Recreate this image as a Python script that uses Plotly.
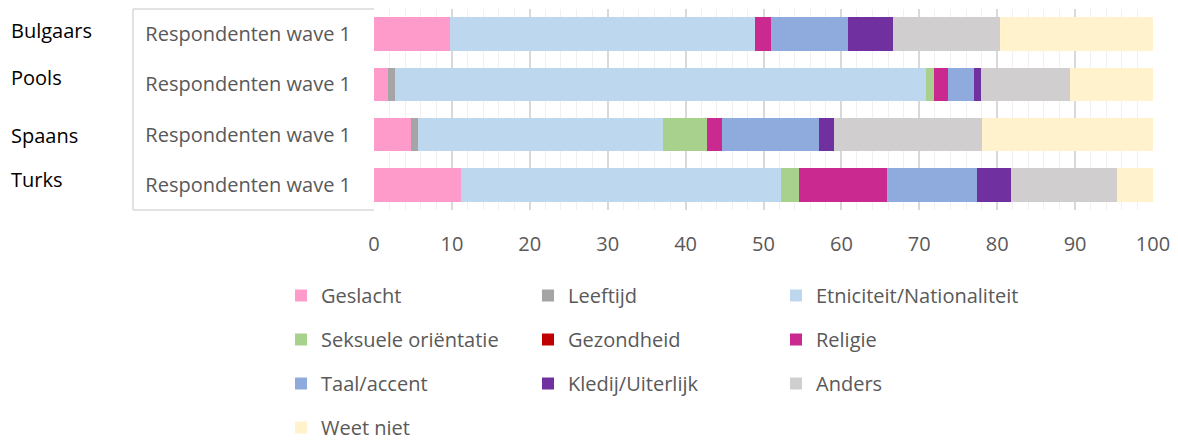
import plotly.graph_objects as go

groups = ["Bulgaars", "Pools", "Spaans", "Turks"]
wave_label = "Respondenten wave 1"

series_names = ["Geslacht", "Leeftijd", "Etniciteit/Nationaliteit", "Seksuele oriëntatie",
                "Gezondheid", "Religie", "Taal/accent", "Kledij/Uiterlijk", "Anders", "Weet niet"]

geslacht = [9.7, 1.8, 4.7, 11.2]
leeftijd = [0.0, 0.9, 1.0, 0.0]
etniciteit = [39.2, 68.2, 31.4, 41.0]
seksuele = [0.0, 1.0, 5.7, 2.3]
gezondheid = [0.0, 0.0, 0.0, 0.0]
religie = [2.0, 1.8, 1.9, 11.4]
taal = [9.9, 3.3, 12.4, 11.5]
kledij = [5.8, 0.9, 1.9, 4.4]
anders = [13.7, 11.4, 19.0, 13.6]
weet_niet = [19.7, 10.7, 22.0, 4.6]

values = [geslacht, leeftijd, etniciteit, seksuele, gezondheid, religie, taal, kledij, anders, weet_niet]
colors = ["#FF9BCB", "#A5A5A5", "#BDD7EE", "#A9D18E", "#C00000",
          "#CA2A8F", "#8FAADC", "#7030A0", "#D0CECE", "#FFF2CC"]
legend_ids = ["legend", "legend2", "legend3", "legend", "legend2",
              "legend3", "legend", "legend2", "legend3", "legend"]

x_ticks = list(range(0, 101, 10))

FONT = "Open Sans"
GRAY = "#595959"
FS = 20

fig = go.Figure()
for name, vals, col, lg in zip(series_names, values, colors, legend_ids):
    fig.add_trace(go.Bar(
        y=groups, x=vals, name=name, orientation="h",
        marker=dict(color=col, line=dict(width=0)),
        legend=lg, legendgroup=name, hoverinfo="skip",
    ))

W, H = 1178, 441
ml, mr, mt, mb = 374, 25, 9, 231
pw = W - ml - mr
ph = H - mt - mb

def px_x(p):
    return (p - ml) / pw

def px_y(p):
    return (H - mb - p) / ph

legend_common = dict(
    orientation="v", xanchor="left", yanchor="top",
    traceorder="grouped", tracegroupgap=15,
    font=dict(family=FONT, size=FS, color=GRAY),
    bgcolor="rgba(0,0,0,0)", itemclick=False, itemdoubleclick=False,
)

fig.update_layout(
    width=W, height=H,
    margin=dict(l=ml, r=mr, t=mt, b=mb, autoexpand=False),
    barmode="stack", bargap=0.334,
    paper_bgcolor="white", plot_bgcolor="white",
    font=dict(family=FONT, size=FS, color=GRAY),
    legend=dict(x=px_x(281), y=px_y(276), **legend_common),
    legend2=dict(x=px_x(528), y=px_y(276), **legend_common),
    legend3=dict(x=px_x(776), y=px_y(276), **legend_common),
    xaxis=dict(
        range=[0, 100], tickvals=x_ticks, ticktext=[str(v) for v in x_ticks],
        showgrid=True, gridcolor="#D9D9D9", gridwidth=1.5,
        minor=dict(dtick=2, showgrid=True, gridcolor="#F0F0F0", gridwidth=1),
        zeroline=False, showline=False, ticks="",
        ticklabelstandoff=20,
        tickfont=dict(family=FONT, size=FS, color=GRAY),
        fixedrange=True,
    ),
    yaxis=dict(
        type="category", categoryorder="array", categoryarray=groups,
        autorange="reversed",
        tickvals=groups, ticktext=[wave_label] * len(groups),
        showgrid=False, zeroline=False, showline=False, ticks="",
        ticklabelstandoff=22,
        tickfont=dict(family=FONT, size=FS, color=GRAY),
        fixedrange=True,
    ),
    shapes=[
        dict(type="line", xref="paper", yref="paper", x0=px_x(133), x1=0, y0=1, y1=1,
             line=dict(color="#D9D9D9", width=1.5)),
        dict(type="line", xref="paper", yref="paper", x0=px_x(133), x1=0, y0=0, y1=0,
             line=dict(color="#D9D9D9", width=1.5)),
        dict(type="line", xref="paper", yref="paper", x0=px_x(133), x1=px_x(133), y0=0, y1=1,
             line=dict(color="#D9D9D9", width=1.5)),
    ],
)

label_yshift = [4, 7, -1, 5]
for g, ys in zip(groups, label_yshift):
    fig.add_annotation(
        x=px_x(9), xref="paper", y=g, yref="y", text=g, showarrow=False,
        xanchor="left", yanchor="middle", yshift=ys,
        font=dict(family=FONT, size=FS, color="#000000"),
    )

fig.write_html("out.html", config={"displayModeBar": False},
               post_script="document.body.style.margin='0px';")
